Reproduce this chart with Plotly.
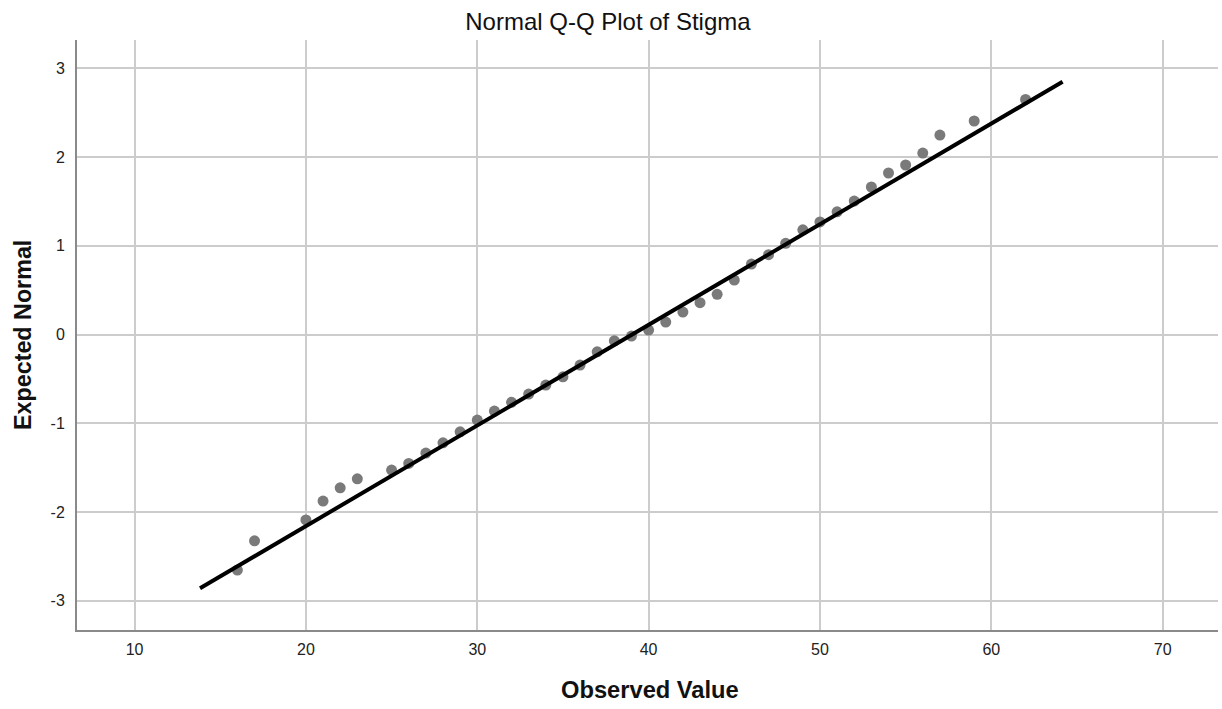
import plotly.graph_objects as go

observed = [16, 17, 20, 21, 22, 23, 25, 26, 27, 28, 29, 30, 31, 32, 33, 34, 35, 36, 37, 38,
            39, 40, 41, 42, 43, 44, 45, 46, 47, 48, 49, 50, 51, 52, 53, 54, 55, 56, 57, 59, 62]
expected = [-2.655, -2.325, -2.09, -1.877, -1.727, -1.626, -1.528, -1.452, -1.336, -1.22,
            -1.096, -0.964, -0.862, -0.764, -0.671, -0.569, -0.476, -0.344, -0.194, -0.07,
            -0.017, 0.051, 0.141, 0.254, 0.359, 0.453, 0.614, 0.795, 0.9, 1.028,
            1.18, 1.27, 1.384, 1.505, 1.663, 1.821, 1.911, 2.046, 2.249, 2.407, 2.65]
line_x = [13.82, 64.16]
line_y = [-2.86, 2.85]
x_ticks = [10, 20, 30, 40, 50, 60, 70]
y_ticks = [-3, -2, -1, 0, 1, 2, 3]
y_tick_text = ["-3", "-2", "-1", "0", "1", "2", "3"]

font = "Liberation Sans, Arial, sans-serif"

fig = go.Figure()
fig.add_trace(go.Scatter(x=observed, y=expected, mode="markers",
                         marker=dict(color="#7a7a7a", size=11, line=dict(width=0)),
                         showlegend=False, cliponaxis=False))
fig.add_trace(go.Scatter(x=line_x, y=line_y, mode="lines",
                         line=dict(color="black", width=4), showlegend=False))

fig.update_layout(
    width=1222, height=709,
    margin=dict(l=77, r=4, t=40, b=79),
    paper_bgcolor="white", plot_bgcolor="white",
    font=dict(family=font, color="#222222"),
    title=dict(text="Normal Q-Q Plot of Stigma", xref="container", x=0.4975, xanchor="center",
               y=0.970, yref="container", yanchor="middle",
               font=dict(size=24, color="#111111", family=font)),
    annotations=[
        dict(text="<b>Observed Value</b>", xref="paper", yref="paper", x=0.5, y=0,
             xanchor="center", yanchor="middle", yshift=-60, showarrow=False, xshift=2,
             font=dict(size=23.7, color="#111111", family=font)),
        dict(text="<b>Expected Normal</b>", xref="paper", yref="paper", x=0, y=0.5,
             xanchor="center", yanchor="middle", xshift=-54, yshift=0, textangle=-90,
             showarrow=False, font=dict(size=23.3, color="#111111", family=font)),
    ],
)
fig.update_xaxes(range=[6.64, 73.23], tickvals=x_ticks, showgrid=True, gridcolor="#cccccc",
                 gridwidth=1.5, showline=True, linecolor="#8a8a8a", linewidth=2,
                 zeroline=False, ticks="", ticklabelstandoff=4, automargin=False,
                 tickfont=dict(size=16, color="#222222"))
fig.update_yaxes(range=[-3.33, 3.32], tickvals=y_ticks, ticktext=y_tick_text, showgrid=True,
                 gridcolor="#cccccc", gridwidth=1.5, showline=True, linecolor="#8a8a8a",
                 linewidth=2, zeroline=False, ticks="", ticklabelstandoff=7, automargin=False,
                 tickfont=dict(size=16, color="#222222"))

fig.write_html("out.html", config={"displayModeBar": False},
               post_script="document.body.style.margin='0';document.body.style.overflow='hidden';")
